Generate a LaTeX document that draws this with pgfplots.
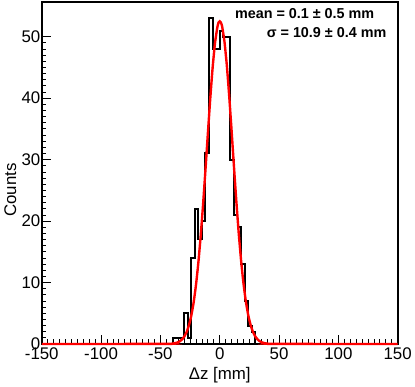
\documentclass[border=0pt]{standalone}
\usepackage{fontspec}
\setmainfont{Liberation Sans}
\usepackage{pgfplots}
\pgfplotsset{compat=1.18}

% histogram of Delta z, 3 mm bins (left edges)
\pgfplotstableread{
x y
-150 0
-39 1
-36 1
-33 1
-30 5
-27 1
-24 14
-21 22
-18 17
-15 20
-12 31
-9 53
-6 48
-3 48
0 51
3 50
6 50
9 30
12 21
15 19
18 13
21 7
24 3
27 2
30 0
150 0
}\histdata

% gaussian fit, mean 0.1, sigma 10.9
\pgfplotstableread{
x y
-150 0
-45 0.01
-40 0.061
-38 0.117
-36 0.218
-34 0.393
-32 0.687
-30 1.16
-28 1.89
-26 2.99
-24 4.56
-22 6.72
-20 9.59
-18 13.22
-16 17.64
-14 22.74
-12 28.35
-10 34.18
-8 39.83
-6 44.89
-4 48.91
-2 51.53
-1 52.3
0 52.5
1 52.3
2 51.71
4 49.24
6 45.35
8 40.37
10 34.76
12 28.93
14 23.28
16 18.12
18 13.63
20 9.92
22 6.98
24 4.74
26 3.12
28 1.98
30 1.22
32 0.725
34 0.416
36 0.231
38 0.125
40 0.065
45 0.01
150 0
}\fitdata

\begin{document}
\begin{tikzpicture}
\begin{axis}[
  scale only axis, width=358bp, height=344bp,
  xmin=-150, xmax=150, ymin=0, ymax=55.65,
  axis line style={line width=1.8bp},
  xtick={-150,-100,...,150}, ytick={0,10,...,50},
  minor x tick num=9, minor y tick num=9,
  tick align=inside, xtick pos=lower, ytick pos=left,
  major tick length=9bp, minor tick length=4.5bp,
  tick style={black, line width=0.8bp},
  /pgf/number format/assume math mode=true,
  tick label style={font=\fontsize{17}{19}\selectfont},
  xticklabel style={yshift=0bp},
  yticklabel style={xshift=2bp},
  label style={font=\fontsize{17}{19}\selectfont},
  xlabel={Δz [mm]}, ylabel={Counts},
  xlabel style={at={(axis description cs:0.5,0)}, anchor=north, yshift=-20bp},
  ylabel style={at={(axis description cs:0,0.45)}, anchor=south, yshift=22bp},
  clip=false,
]
\addplot[const plot mark left, black, line width=2bp] table {\histdata};
\addplot[red, line width=2.4bp, smooth, tension=0.3] table {\fitdata};
\node[anchor=east, font=\bfseries\fontsize{14.5}{16}\selectfont]
  at (rel axis cs:0.944,0.965) {mean = 0.1 ± 0.5 mm};
\node[anchor=east, font=\bfseries\fontsize{14.5}{16}\selectfont]
  at (rel axis cs:0.978,0.91) {σ = 10.9 ± 0.4 mm};
\end{axis}
\path ([xshift=-42bp,yshift=-42bp]current axis.south west)
  rectangle ([xshift=15bp,yshift=2bp]current axis.north east);
\end{tikzpicture}
\end{document}
